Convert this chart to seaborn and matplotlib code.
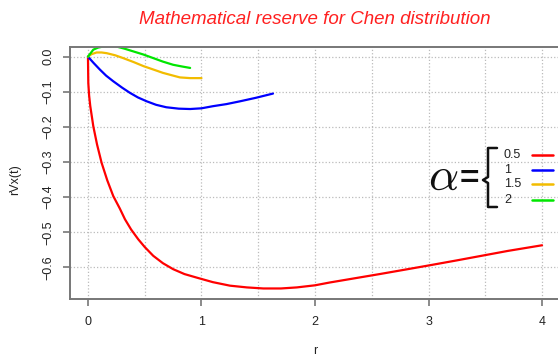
import matplotlib
matplotlib.use("Agg")
import matplotlib.pyplot as plt
from matplotlib.lines import Line2D
from matplotlib.ticker import MultipleLocator
import numpy as np
import pandas as pd
import seaborn as sns

# values
alpha_levels = ["0.5", "1", "1.5", "2"]
line_colors = ["#FF0000", "#0000FF", "#F2BC00", "#00E600"]

r_a05 = [0, 0.003, 0.01, 0.02, 0.047, 0.08, 0.12, 0.17, 0.223, 0.28, 0.326, 0.38,
         0.443, 0.5, 0.575, 0.66, 0.75, 0.85, 0.957, 1.1, 1.25, 1.4, 1.545, 1.7,
         1.84, 2.0, 2.13, 2.35, 2.57, 2.8, 3.01, 3.25, 3.45, 3.7, 4.0]
v_a05 = [0, -0.075, -0.11, -0.14, -0.198, -0.25, -0.302, -0.352, -0.397, -0.432,
         -0.463, -0.492, -0.52, -0.542, -0.567, -0.588, -0.605, -0.619, -0.629,
         -0.642, -0.652, -0.657, -0.660, -0.660, -0.657, -0.651, -0.643, -0.631,
         -0.619, -0.606, -0.594, -0.580, -0.568, -0.553, -0.537]

r_a1 = [0, 0.05, 0.106, 0.16, 0.223, 0.3, 0.37, 0.44, 0.517, 0.6, 0.69, 0.8, 0.9,
        1.0, 1.10, 1.22, 1.34, 1.48, 1.63]
v_a1 = [0, -0.018, -0.037, -0.054, -0.070, -0.088, -0.103, -0.116, -0.127, -0.137,
        -0.144, -0.148, -0.149, -0.147, -0.141, -0.135, -0.127, -0.117, -0.105]

r_a15 = [0, 0.03, 0.076, 0.12, 0.165, 0.24, 0.31, 0.4, 0.49, 0.58, 0.66, 0.74,
         0.81, 0.9, 1.0]
v_a15 = [0, 0.007, 0.012, 0.012, 0.010, 0.004, -0.004, -0.015, -0.027, -0.037,
         -0.046, -0.053, -0.059, -0.061, -0.061]

r_a2 = [0, 0.047, 0.09, 0.135, 0.19, 0.25, 0.32, 0.4, 0.49, 0.575, 0.66, 0.75,
        0.83, 0.9]
v_a2 = [0, 0.020, 0.026, 0.029, 0.030, 0.029, 0.023, 0.015, 0.006, -0.004, -0.014,
        -0.023, -0.028, -0.032]

x_ticks = [0, 1, 2, 3, 4]
y_ticks = [0.0, -0.1, -0.2, -0.3, -0.4, -0.5, -0.6]

frames = []
for lvl, r, v in zip(alpha_levels, [r_a05, r_a1, r_a15, r_a2], [v_a05, v_a1, v_a15, v_a2]):
    frames.append(pd.DataFrame({"r": r, "value": v, "alpha": lvl}))
df = pd.concat(frames, ignore_index=True)

sns.set_style("white")
plt.rcParams["font.family"] = ["Liberation Sans", "DejaVu Sans"]

W, H = 558, 358
fig = plt.figure(figsize=(W / 100, H / 100), dpi=100)
ax = fig.add_axes([69.8 / W, 59 / H, (560.2 - 69.8) / W, 252 / H])

sns.lineplot(data=df, x="r", y="value", hue="alpha", hue_order=alpha_levels,
             palette=line_colors, estimator=None, sort=False, linewidth=1.6,
             legend=False, ax=ax)

ax.set_xlim(-0.16, 4.16)
ax.set_ylim(-0.690, 0.0276)
ax.set_xticks(x_ticks)
ax.set_xticklabels([str(t) for t in x_ticks])
ax.set_yticks(y_ticks)
ax.set_yticklabels([f"{t:.1f}".replace("-", "\u2212") for t in y_ticks],
                   rotation=90, va="center")
ax.xaxis.set_minor_locator(MultipleLocator(0.5))
ax.grid(True, which="both", axis="x", color="#bbbbbb", linestyle=":", linewidth=0.9)
ax.grid(True, which="major", axis="y", color="#bbbbbb", linestyle=":", linewidth=0.9)
ax.set_axisbelow(True)

for s in ax.spines.values():
    s.set_color("#777777")
    s.set_linewidth(1.4)
ax.tick_params(axis="both", which="major", direction="out", length=5, width=1.2,
               color="#777777", labelsize=9, labelcolor="#222222",
               bottom=True, left=True)
ax.tick_params(axis="x", which="minor", length=0)
ax.tick_params(axis="y", pad=6)
ax.tick_params(axis="x", pad=7)
ax.set_xlabel("")
ax.set_ylabel("")

fig.text(315 / W, 1 - 20 / H, "Mathematical reserve for Chen distribution",
         color="#FF2020", fontsize=13.5, style="italic", ha="center", va="center")
fig.text(315 / W, 1 - 351 / H, "r", fontsize=9, color="#222222",
         ha="center", va="center")
fig.text(15 / W, 1 - 180 / H, "rVx(t)", fontsize=9, color="#222222",
         rotation=90, ha="center", va="center")

# alpha legend with a brace
def fx(px):
    return px / W

def fy(py):
    return 1 - py / H

fig.text(fx(443), fy(178), r"$\alpha$", fontsize=34, math_fontfamily="cm",
         ha="center", va="center", color="#111111")
fig.text(fx(469), fy(179), "=", fontsize=24, fontweight="bold",
         ha="center", va="center", color="#111111")
brace_x = [497, 488, 488, 483, 488, 488, 497]
brace_y = [148, 148, 177, 180, 183, 207, 207]
fig.add_artist(Line2D([fx(p) for p in brace_x], [fy(p) for p in brace_y],
                      transform=fig.transFigure, color="#111111", linewidth=1.8))
label_y = [155, 170, 184, 200]
for lvl, col, py in zip(alpha_levels, line_colors, label_y):
    fig.text(fx(504), fy(py), lvl, fontsize=9, ha="left", va="center",
             color="#222222")
    fig.add_artist(Line2D([fx(532), fx(553)], [fy(py), fy(py)],
                          transform=fig.transFigure, color=col, linewidth=1.8))

fig.savefig("out.png", dpi=100)
